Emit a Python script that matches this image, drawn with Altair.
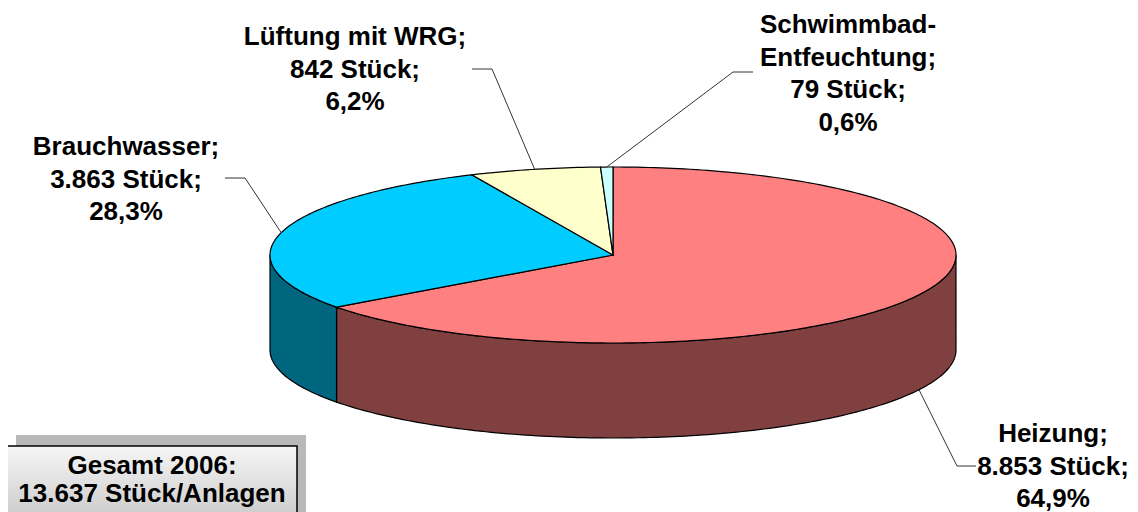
import numpy as np
import pandas as pd
import altair as alt

# ---------------- data ----------------
categories = ["Heizung", "Brauchwasser", "Lüftung mit WRG", "Schwimmbad-Entfeuchtung"]
counts = [8853, 3863, 842, 79]
name_lines = [["Heizung;"], ["Brauchwasser;"], ["Lüftung mit WRG;"], ["Schwimmbad-", "Entfeuchtung;"]]
top_colors = ["#FF8080", "#00CCFF", "#FFFFCC", "#CCFFFF"]
side_colors = ["#804040", "#006680", "#808066", "#668080"]
total_title = "Gesamt 2006:"
total_unit = "Stück/Anlagen"

# ---------------- layout (page pixels) ----------------
OFF = 8
CX, CY, RX, RY, DEPTH = 613, 255, 343, 88, 95
FONT = "Liberation Sans"
FSIZE = 26
LINE_H = 32.5
label_layout = {
    "Heizung": dict(elbow=(957, 466), end=(976, 466), text=(1053, 442)),
    "Brauchwasser": dict(elbow=(245, 178), end=(225, 178), text=(126, 155)),
    "Lüftung mit WRG": dict(elbow=(492, 69), end=(472, 69), text=(355, 45)),
    "Schwimmbad-Entfeuchtung": dict(elbow=(733, 72), end=(753, 72), text=(848, 33)),
}
box = dict(x0=7, y0=446, x1=297, y1=530)
shadow_dx, shadow_dy = 9, -11
box_text = (152, 474)

total = sum(counts)


def de_int(n):
    return f"{n:,}".replace(",", ".")


def de_pct(v):
    return f"{v:.1f}".replace(".", ",") + "%"


def pt(t, dy=0.0):
    return [float(CX + RX * np.sin(t)), float(CY - RY * np.cos(t) + dy)]


def arc(a, b):
    n = max(2, int(np.ceil((b - a) / (2 * np.pi) * 360)) + 1)
    return [pt(t) for t in np.linspace(a, b, n)]


def feature(ring, fill, name):
    return {"type": "Feature", "properties": {"fill": fill, "name": name},
            "geometry": {"type": "Polygon", "coordinates": [ring]}}


fractions = [c / total for c in counts]
starts = np.cumsum([0] + fractions[:-1]) * 2 * np.pi
ends = np.cumsum(fractions) * 2 * np.pi

side_feats, top_feats = [], []
leader_rows, text_rows = [], []
for i, cat in enumerate(categories):
    a, b = float(starts[i]), float(ends[i])
    # visible side (front half of the cylinder)
    a2, b2 = max(a, np.pi / 2), min(b, 3 * np.pi / 2)
    if a2 < b2:
        top = arc(a2, b2)
        bottom = [[x, y + DEPTH] for x, y in reversed(top)]
        side_feats.append(feature(top + bottom + [top[0]], side_colors[i], cat))
    ring = [[float(CX), float(CY)]] + arc(a, b) + [[float(CX), float(CY)]]
    top_feats.append(feature(ring, top_colors[i], cat))

    # leader line from the slice's middle angle
    m = (a + b) / 2
    s = pt(m, DEPTH if np.cos(m) < 0 else 0)
    lay = label_layout[cat]
    for j, p in enumerate([s, lay["elbow"], lay["end"]]):
        leader_rows.append(dict(id=cat, seq=j, x=p[0], y=p[1]))

    lines = name_lines[i] + [de_int(counts[i]) + " Stück;", de_pct(100 * fractions[i])]
    tx, ty = lay["text"]
    for j, ln in enumerate(lines):
        text_rows.append(dict(x=tx, y=ty + j * LINE_H, text=ln))

box_lines = [total_title, de_int(total) + " " + total_unit]
box_rows = [dict(x=box_text[0], y=box_text[1] + j * 28, text=t) for j, t in enumerate(box_lines)]


def rect_ring(x0, y0, x1, y1):
    return [[x0, y0], [x1, y0], [x1, y1], [x0, y1], [x0, y0]]


shadow_feat = [feature(rect_ring(box["x0"] + shadow_dx, box["y0"] + shadow_dy,
                                 box["x1"] + shadow_dx, box["y1"] + shadow_dy), "#b8b8b8", "shadow")]
box_feat = [feature(rect_ring(box["x0"], box["y0"], box["x1"], box["y1"]), "#ffffff", "box")]

proj = dict(type="identity", scale=1, translate=[-OFF, -OFF])

shadow_layer = alt.Chart(alt.Data(values=shadow_feat)).mark_geoshape(
    fill="#b8b8b8", stroke=None).project(**proj)
box_layer = alt.Chart(alt.Data(values=box_feat)).mark_geoshape(
    fill=alt.Gradient(gradient="linear", x1=0, y1=0, x2=0, y2=1,
                      stops=[alt.GradientStop(offset=0, color="#f6f6f6"),
                             alt.GradientStop(offset=1, color="#c4c4c4")]),
    stroke="black", strokeWidth=1.5).project(**proj)

sides = alt.Chart(alt.Data(values=side_feats)).mark_geoshape(
    stroke="black", strokeWidth=1.2).encode(
    fill=alt.Fill("properties.fill:N", scale=None)).project(**proj)
tops = alt.Chart(alt.Data(values=top_feats)).mark_geoshape(
    stroke="black", strokeWidth=1.2).encode(
    fill=alt.Fill("properties.fill:N", scale=None)).project(**proj)

leaders = alt.Chart(pd.DataFrame(leader_rows)).mark_line(
    stroke="#333333", strokeWidth=1).encode(
    longitude="x:Q", latitude="y:Q", detail="id:N", order="seq:Q").project(**proj)

labels = alt.Chart(pd.DataFrame(text_rows)).mark_text(
    font=FONT, fontSize=FSIZE, fontWeight="bold", align="center", baseline="alphabetic",
    color="black").encode(longitude="x:Q", latitude="y:Q", text="text:N").project(**proj)

box_labels = alt.Chart(pd.DataFrame(box_rows)).mark_text(
    font=FONT, fontSize=FSIZE, fontWeight="bold", align="center", baseline="alphabetic",
    color="black").encode(longitude="x:Q", latitude="y:Q", text="text:N").project(**proj)

chart = alt.layer(shadow_layer, box_layer, sides, tops, leaders, labels, box_labels).properties(
    width=1138 - 2 * OFF, height=512 - OFF, padding=0,
    autosize=alt.AutoSizeParams(type="none"),
).configure_view(stroke=None)

chart.save("out.html", embed_options={"renderer": "svg", "actions": False})
